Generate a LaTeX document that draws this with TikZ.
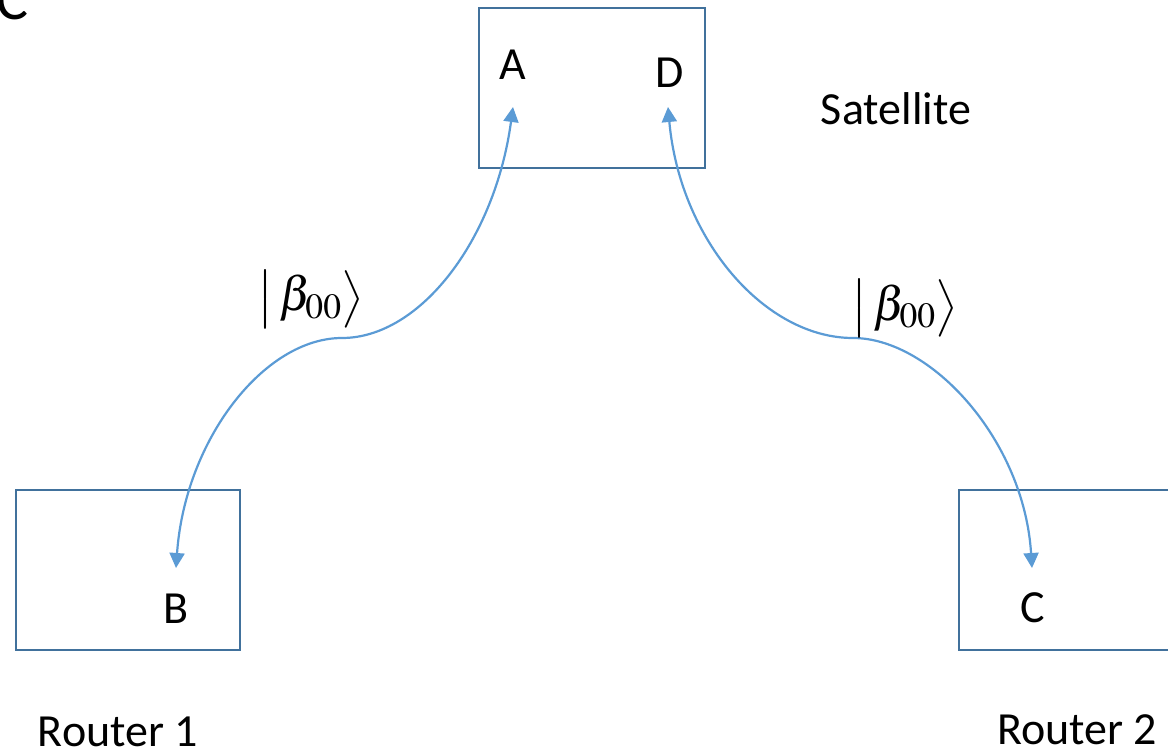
\documentclass[tikz,border=0pt]{standalone}
\usepackage{mathptmx}
\usepackage{fontspec}
\setmainfont{Carlito}
\usetikzlibrary{arrows.meta}
\definecolor{boxblue}{HTML}{41719C}
\definecolor{arrowblue}{HTML}{5B9BD5}
\begin{document}
\begin{tikzpicture}[x=1pt,y=1pt,
  box/.style={draw=boxblue, line width=2.5pt, minimum height=160pt, inner sep=0pt},
  lbl/.style={font=\fontsize{46}{55}\selectfont, inner sep=0pt, anchor=base},
  ket/.style={font=\fontsize{48}{56}\selectfont, inner sep=0pt},
  link/.style={draw=arrowblue, line width=2.2pt,
    {Triangle[width=15pt,length=15pt]}-{Triangle[width=15pt,length=15pt]}}]
\useasboundingbox (0,0) rectangle (1168,-754);
\clip (0,0) rectangle (1168,-754);
% panel letter (cut off)
\node[font=\fontsize{60}{70}\selectfont, inner sep=0pt, anchor=base west] (panel) at (-4,-20) {C};
% boxes
\node[box, minimum width=226pt] (sat) at (592,-88) {};
\node[box, minimum width=224pt] (r1) at (128,-570) {};
\node[box, minimum width=226pt] (r2) at (1072,-570) {};
% labels
\node[lbl] (A) at (513,-80) {A};
\node[lbl] (D) at (670,-88) {D};
\node[lbl] (B) at (176,-623) {B};
\node[lbl] (C) at (1033,-622) {C};
\node[lbl] (satl) at (896,-125) {Satellite};
\node[lbl] (r1l) at (118,-746) {Router 1};
\node[lbl] (r2l) at (1077,-744) {Router 2};
% arrow end points
\coordinate (Atip) at (513,-107);
\coordinate (Dtip) at (668,-107);
\coordinate (Btip) at (176,-568);
\coordinate (Ctip) at (1032,-568);
\coordinate (M1) at (342,-338);
\coordinate (M2) at (853,-338);
% connectors
\draw[link] (Atip) .. controls (495,-240) and (420,-338) .. (M1)
  .. controls (264,-338) and (185,-440) .. (Btip);
\draw[link] (Dtip) .. controls (680,-240) and (765,-338) .. (M2)
  .. controls (931,-338) and (1024,-440) .. (Ctip);
% ket labels
\node[ket] (k1) at (311,-299) {$\bigl|\,\beta_{00}\bigr\rangle$};
\node[ket] (k2) at (905,-308) {$\bigl|\,\beta_{00}\bigr\rangle$};
\end{tikzpicture}
\end{document}
